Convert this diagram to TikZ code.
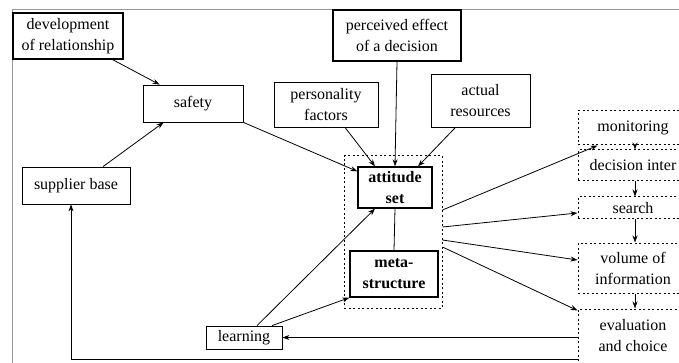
\documentclass[tikz,border=0pt]{standalone}
\usepackage{fontspec}
\setmainfont{Liberation Serif}
\usetikzlibrary{positioning}
\usetikzlibrary{arrows.meta}

\begin{document}
\begin{tikzpicture}[x=1pt, y=-1pt, >={Stealth[length=7pt,width=5pt]},
    font=\fontsize{16}{21}\selectfont, line width=0.8pt,
    box/.style={draw, align=center, inner sep=0pt},
    heavybox/.style={box, line width=1.3pt},
    dotbox/.style={draw, dash pattern=on 2pt off 2.5pt, line width=1pt, align=center, inner sep=0pt}]
    \useasboundingbox (0,0) rectangle (679,363);
    \clip (0,0) rectangle (679,363);
    % frame
    \draw[gray!80] (12,363) -- (12,9) -- (679,9);

    % influences
    \node[heavybox, minimum width=110, minimum height=46] (dev) at (68,36) {development\\of relationship};
    \node[box, minimum width=100, minimum height=37] (safety) at (193,103.5) {safety};
    \node[box, minimum width=108, minimum height=37] (supplier) at (76,185.5) {supplier base};
    \node[heavybox, minimum width=128, minimum height=51] (perceived) at (397,35.5) {perceived effect\\of a decision};
    \node[box, minimum width=104, minimum height=45] (personality) at (326,104.5) {personality\\factors};
    \node[box, minimum width=99, minimum height=53] (actual) at (480.5,100.5) {actual\\resources};

    % core
    \node[dotbox, minimum width=98, minimum height=152] (core) at (393,232) {};
    \node[heavybox, minimum width=74, minimum height=41, font=\fontsize{16}{21}\selectfont\bfseries] (attitude) at (395,187.5) {attitude\\set};
    \node[heavybox, minimum width=88, minimum height=46, font=\fontsize{16}{21}\selectfont\bfseries] (meta) at (394,274) {meta-\\structure};
    \node[box, minimum width=76, minimum height=23] (learning) at (244,337.5) {learning};

    % decision process
    \node[dotbox, minimum width=110, minimum height=34] (monitoring) at (633,128) {monitoring};
    \node[dotbox, minimum width=110, minimum height=31] (decision) at (633,165.5) {decision inter};
    \node[dotbox, minimum width=110, minimum height=22] (search) at (633,208) {search};
    \node[dotbox, minimum width=110, minimum height=50] (volume) at (633,268) {volume of\\information};
    \node[dotbox, minimum width=110, minimum height=54] (evaluation) at (633,336) {evaluation\\and choice};

    \draw[->] ([xshift=-11]dev.south east) -- ([xshift=17]safety.north west);
    \draw[->] ([xshift=27]supplier.north) -- ([xshift=21]safety.south west);
    \draw[->] (safety.south east) -- ([yshift=-5]attitude.north west);
    \draw[->] ([xshift=19]personality.south) -- ([xshift=-20]attitude.north);
    \draw[->] (perceived.south) -- (attitude.north);
    \draw[->] ([xshift=-25]actual.south) -- ([xshift=23]attitude.north);
    \draw (attitude.south) -- (meta.north);
    \draw[->] ([xshift=13]learning.north) -- ([xshift=-20]attitude.south);
    \draw[->] ([xshift=28]learning.north) -- (meta.south west);

    \draw[->] ([yshift=22]core.east) -- ([xshift=20]monitoring.south west);
    \draw[->] ([yshift=5]core.east) -- ([yshift=-5]search.west);
    \draw[->] ([yshift=-8]core.east) -- ([yshift=8]volume.west);
    \draw[->] ([yshift=-15]core.east) -- ([yshift=-2]evaluation.north west);

    \draw[->] ([xshift=2]monitoring.south) -- ([xshift=2]decision.north);
    \draw[->] ([xshift=2]decision.south) -- ([xshift=2]search.north);
    \draw[->] ([xshift=2]search.south) -- ([xshift=2]volume.north);
    \draw[->] ([xshift=2]volume.south) -- ([xshift=2]evaluation.north);

    \draw[->] (evaluation.west |- learning) -- (learning);
    \draw[->] ([yshift=-23]evaluation.west) -| ([xshift=-5]supplier.south);
\end{tikzpicture}
\end{document}
